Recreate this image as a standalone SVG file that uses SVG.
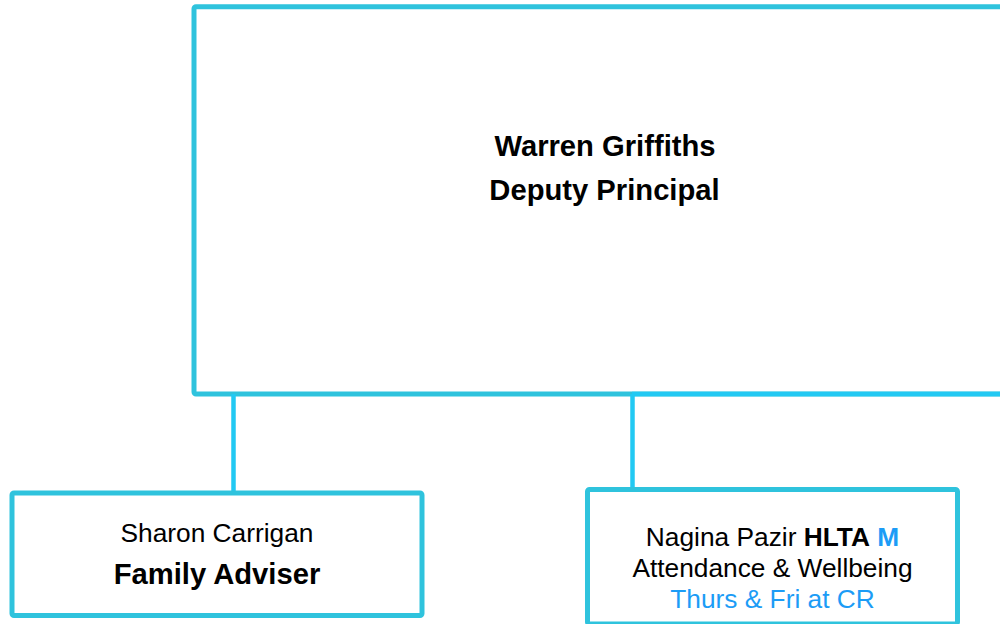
<svg xmlns="http://www.w3.org/2000/svg" width="1000" height="624" viewBox="0 0 1000 624">
<style>
.box{fill:#ffffff;stroke:#2fc3dd;stroke-width:5}
.conn{fill:none;stroke:#22c9f3;stroke-width:4.5}
text{font-family:"Liberation Sans",Arial,sans-serif;fill:#000;text-anchor:middle}
.b{font-weight:bold}
.blue{fill:#1c9cf6}
</style>
<rect width="1000" height="624" fill="#ffffff"/>
<g id="node-warren">
<rect class="box" x="194" y="6.7" width="830" height="387.3" rx="2"/>
<text class="b" x="605" y="156" font-size="29.2">Warren Griffiths</text>
<text class="b" x="604.5" y="200" font-size="29.2">Deputy Principal</text>
</g>
<g id="connectors">
<line class="conn" x1="632" y1="394" x2="1000" y2="394" stroke-width="5.5"/>
<line class="conn" x1="233.5" y1="394" x2="233.5" y2="492"/>
<line class="conn" x1="632.5" y1="394" x2="632.5" y2="489"/>
</g>
<g id="node-sharon">
<rect class="box" x="12" y="493" width="410" height="122.5" rx="2"/>
<text x="217" y="542" font-size="26.3">Sharon Carrigan</text>
<text class="b" x="217" y="584" font-size="29.2">Family Adviser</text>
</g>
<g id="node-nagina">
<rect class="box" x="587.5" y="489.5" width="370" height="134.5" rx="2"/>
<text x="772.5" y="545.7" font-size="26.3">Nagina Pazir <tspan class="b">HLTA</tspan> <tspan class="b blue">M</tspan></text>
<text x="772.5" y="576.7" font-size="26.3">Attendance &amp; Wellbeing</text>
<text class="blue" x="772.5" y="608" font-size="26.3">Thurs &amp; Fri at CR</text>
</g>
</svg>
